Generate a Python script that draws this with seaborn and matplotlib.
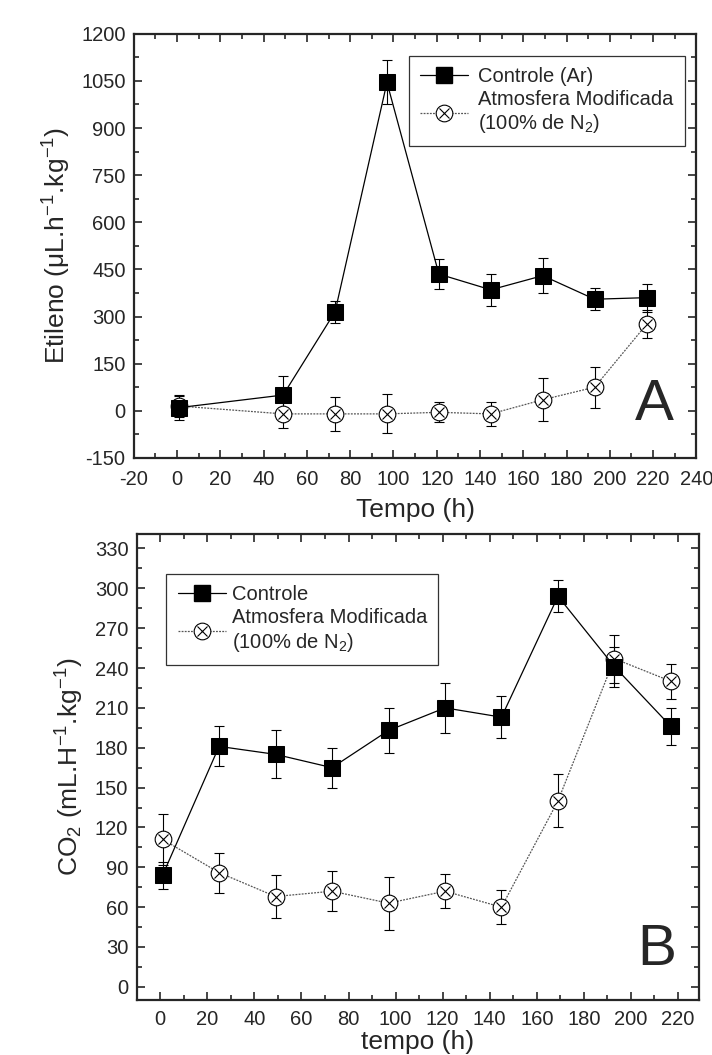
import numpy as np
import seaborn as sns
import matplotlib.pyplot as plt
from matplotlib.ticker import MultipleLocator
from matplotlib.legend_handler import HandlerTuple

# Painel A - etileno
t_eti = [1, 49, 73, 97, 121, 145, 169, 193, 217]
eti_ctrl = [10, 50, 315, 1045, 435, 385, 430, 355, 360]
eti_ctrl_err = [38, 60, 35, 70, 48, 50, 55, 35, 45]
eti_mod = [15, -10, -10, -10, -5, -10, 35, 75, 275]
eti_mod_err = [35, 45, 55, 62, 32, 37, 68, 65, 45]

# Painel B - CO2
t_co2 = [1, 25, 49, 73, 97, 121, 145, 169, 193, 217]
co2_ctrl = [84, 181, 175, 165, 193, 210, 203, 294, 241, 196]
co2_ctrl_err = [10, 15, 18, 15, 17, 19, 16, 12, 15, 14]
co2_mod = [111, 86, 68, 72, 63, 72, 60, 140, 247, 230]
co2_mod_err = [19, 15, 16, 15, 20, 13, 13, 20, 18, 13]

sns.set_style("ticks")
plt.rcParams['font.family'] = ['Liberation Sans', 'DejaVu Sans']
plt.rcParams['mathtext.fontset'] = 'custom'
plt.rcParams['mathtext.rm'] = 'Liberation Sans'
plt.rcParams['mathtext.it'] = 'Liberation Sans'
plt.rcParams['axes.unicode_minus'] = False

DOT = (0, (1.5, 1))


def draw_panel(ax, t, ctrl, ctrl_err, mod, mod_err, lbl_ctrl):
    ax.errorbar(t, ctrl, yerr=ctrl_err, fmt='none', ecolor='black', elinewidth=0.8,
                capsize=3.5, capthick=0.8, zorder=2)
    ax.errorbar(t, mod, yerr=mod_err, fmt='none', ecolor='black', elinewidth=0.8,
                capsize=3.5, capthick=0.8, zorder=2)
    sns.lineplot(x=t, y=mod, ax=ax, color='#555555', linestyle=DOT, linewidth=0.9,
                 marker='o', markersize=12, markerfacecolor='white', markeredgecolor='black',
                 markeredgewidth=0.8, zorder=3)
    ax.plot(t, mod, linestyle='none', marker='x', markersize=7.5, color='black',
            markeredgewidth=0.8, zorder=4)
    sns.lineplot(x=t, y=ctrl, ax=ax, color='black', linewidth=0.9, marker='s', markersize=11.5,
                 markerfacecolor='black', markeredgecolor='black', zorder=5)

    # legend handles
    h1 = plt.Line2D([], [], color='black', linewidth=0.9, marker='s', markersize=11.5,
                    markerfacecolor='black')
    h2 = (plt.Line2D([], [], color='#555555', linestyle=DOT, linewidth=0.9, marker='o',
                     markersize=12, markerfacecolor='white', markeredgecolor='black',
                     markeredgewidth=0.8),
          plt.Line2D([], [], linestyle='none', marker='x', markersize=7.5, color='black',
                     markeredgewidth=0.8))
    return [h1, h2], [lbl_ctrl, 'Atmosfera Modificada\n(100% de N$_2$)']


def style_axes(ax, xpad):
    ax.tick_params(which='both', direction='in', top=True, right=True, labelsize=14.5,
                   width=1.2)
    ax.tick_params(which='major', length=6)
    ax.tick_params(which='minor', length=3.5)
    ax.tick_params(axis='x', pad=xpad)
    ax.tick_params(axis='y', pad=6)
    for s in ax.spines.values():
        s.set_linewidth(1.6)


fig = plt.figure(figsize=(7.12, 10.55), dpi=100)
ax1 = fig.add_axes([0.188, 0.566, 0.790, 0.402])
ax2 = fig.add_axes([0.192, 0.052, 0.790, 0.442])

# ---- Painel A
hs, ls = draw_panel(ax1, t_eti, eti_ctrl, eti_ctrl_err, eti_mod, eti_mod_err, 'Controle (Ar)')
ax1.set_xlim(-20, 240)
ax1.set_ylim(-150, 1200)
ax1.xaxis.set_major_locator(MultipleLocator(20))
ax1.xaxis.set_minor_locator(MultipleLocator(10))
ax1.yaxis.set_major_locator(MultipleLocator(150))
ax1.yaxis.set_minor_locator(MultipleLocator(75))
style_axes(ax1, 9)
ax1.set_xlabel('Tempo (h)', fontsize=19, labelpad=6)
ax1.set_ylabel('Etileno ($\\mu$L.h$^{-1}$.kg$^{-1}$)', fontsize=19, labelpad=6)
leg = ax1.legend(hs, ls, loc='upper right', bbox_to_anchor=(0.997, 0.972), fontsize=14.5,
                 frameon=True, fancybox=False, edgecolor='black', handlelength=2.4,
                 borderpad=0.55, labelspacing=0.2, handletextpad=0.5,
                 handler_map={tuple: HandlerTuple(ndivide=1, pad=0)})
leg.get_frame().set_linewidth(0.9)
ax1.text(0.96, 0.06, 'A', transform=ax1.transAxes, fontsize=42, ha='right', va='bottom')

# ---- Painel B
hs, ls = draw_panel(ax2, t_co2, co2_ctrl, co2_ctrl_err, co2_mod, co2_mod_err, 'Controle')
ax2.set_xlim(-10, 229)
ax2.set_ylim(-10, 341)
ax2.xaxis.set_major_locator(MultipleLocator(20))
ax2.xaxis.set_minor_locator(MultipleLocator(10))
ax2.yaxis.set_major_locator(MultipleLocator(30))
ax2.yaxis.set_minor_locator(MultipleLocator(15))
style_axes(ax2, 7)
ax2.set_xlabel('tempo (h)', fontsize=19, labelpad=1)
ax2.set_ylabel('CO$_2$ (mL.H$^{-1}$.kg$^{-1}$)', fontsize=19, labelpad=6)
leg = ax2.legend(hs, ls, loc='upper left', bbox_to_anchor=(0.035, 0.935), fontsize=14.5,
                 frameon=True, fancybox=False, edgecolor='black', handlelength=2.4,
                 borderpad=0.55, labelspacing=0.2, handletextpad=0.3,
                 handler_map={tuple: HandlerTuple(ndivide=1, pad=0)})
leg.get_frame().set_linewidth(0.9)
ax2.text(0.96, 0.05, 'B', transform=ax2.transAxes, fontsize=42, ha='right', va='bottom')

fig.savefig('out.png', dpi=100)
